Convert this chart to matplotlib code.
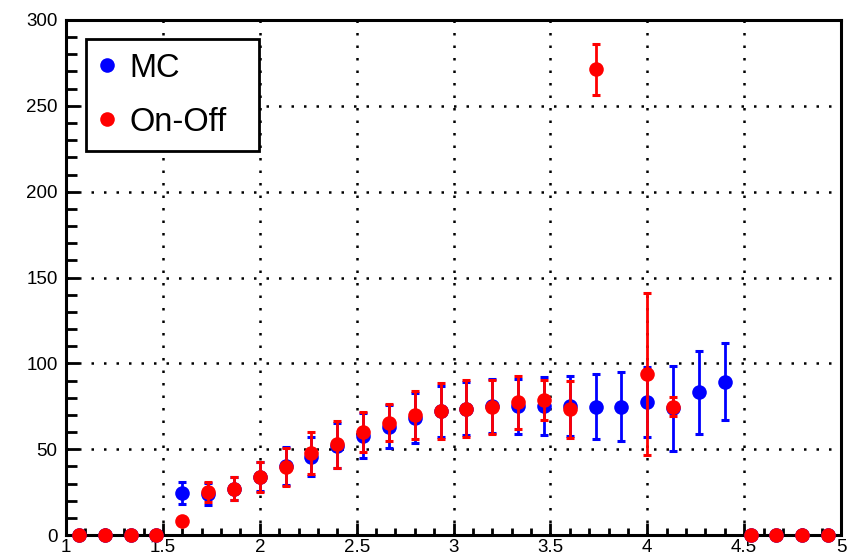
import numpy as np
import matplotlib
matplotlib.use("Agg")
import matplotlib.pyplot as plt
from matplotlib.lines import Line2D
from matplotlib.ticker import MultipleLocator

plt.rcParams['font.family'] = ['Liberation Sans', 'DejaVu Sans']

# 30 equal bins between 1 and 5
bin_edges = np.linspace(1.0, 5.0, 31)
bin_centers = 0.5 * (bin_edges[:-1] + bin_edges[1:])

nan = np.nan

mc_values = [0, 0, 0, 0, 24.5, 24.0, 27.0, 34.0, 40.0, 45.6,
             52.0, 57.8, 63.1, 68.0, 72.0, 73.5, 75.0, 75.1, 75.1, 75.0,
             74.7, 74.7, 77.6, 73.8, 83.1, 89.3, 0, 0, 0, 0]
mc_errors = [0, 0, 0, 0, 6.5, 6.5, 6.5, 8.5, 11.0, 11.5,
             13.0, 13.0, 12.5, 14.5, 15.0, 15.5, 15.7, 16.0, 17.0, 17.5,
             19.0, 20.0, 20.5, 24.8, 24.0, 22.6, 0, 0, 0, 0]

onoff_values = [0, 0, 0, 0, 8.2, 25.0, 27.0, 33.6, 39.8, 47.9,
                52.8, 59.8, 65.5, 70.0, 72.2, 73.6, 74.7, 77.3, 78.6, 73.2,
                271.4, nan, 93.8, 74.7, nan, nan, 0, 0, 0, 0]
onoff_errors = [0, 0, 0, 0, 2.0, 6.0, 6.6, 8.7, 11.0, 12.2,
                13.7, 11.7, 10.8, 14.0, 16.2, 16.7, 15.7, 15.5, 11.7, 16.7,
                14.8, nan, 47.4, 5.6, nan, nan, 0, 0, 0, 0]

series_labels = ["MC", "On-Off"]
series_colors = ["#0000ff", "#ff0000"]

x_ticks = [1, 1.5, 2, 2.5, 3, 3.5, 4, 4.5, 5]
x_tick_labels = ["1", "1.5", "2", "2.5", "3", "3.5", "4", "4.5", "5"]
y_ticks = [0, 50, 100, 150, 200, 250, 300]

W, H = 847, 556
fig = plt.figure(figsize=(W / 100, H / 100), dpi=100)
ax = fig.add_axes([66 / W, 1 - 535 / H, (841 - 66) / W, (535 - 20) / H])

ax.set_xlim(1, 5)
ax.set_ylim(0, 300)

zo = 3
for vals, errs, col in [(mc_values, mc_errors, series_colors[0]),
                        (onoff_values, onoff_errors, series_colors[1])]:
    vals = np.asarray(vals, dtype=float)
    errs = np.asarray(errs, dtype=float)
    has_err = errs > 0
    ax.errorbar(bin_centers[has_err], vals[has_err], yerr=errs[has_err],
                fmt='none', ecolor=col, elinewidth=2.0, capsize=2.6,
                capthick=2.2, zorder=zo, clip_on=False)
    ax.plot(bin_centers, vals, ls='none', marker='o', ms=10.5, mew=0,
            color=col, zorder=zo + 0.5, clip_on=False)
    zo += 1

# frame and ticks
for s in ax.spines.values():
    s.set_linewidth(2.2)
    s.set_zorder(2.5)

ax.set_xticks(x_ticks)
ax.set_xticklabels(x_tick_labels)
ax.set_yticks(y_ticks)
ax.xaxis.set_minor_locator(MultipleLocator(0.1))
ax.yaxis.set_minor_locator(MultipleLocator(10))
ax.tick_params(which='both', direction='in', width=2, labelsize=13.5,
               top=False, right=False)
ax.tick_params(axis='x', which='major', length=9, pad=3)
ax.tick_params(axis='x', which='minor', length=5)
ax.tick_params(axis='y', which='major', length=9, pad=6)
ax.tick_params(axis='y', which='minor', length=8)

ax.grid(True, which='major', color='black', linestyle=(0, (1, 4)),
        linewidth=1.8, dash_capstyle='butt')
ax.set_axisbelow(True)

handles = [Line2D([], [], ls='none', marker='o', ms=10.5, mew=0, color=c)
           for c in series_colors]
leg = ax.legend(handles, series_labels, loc='upper left',
                bbox_to_anchor=(86 / W, 1 - 39 / H - 0.01, (259 - 86) / W, 0.01),
                bbox_transform=fig.transFigure, mode='expand',
                borderaxespad=0, fontsize=23.5, frameon=True, fancybox=False,
                edgecolor='black', framealpha=1, borderpad=0.42,
                handlelength=0.45, handletextpad=0.45, labelspacing=0.7)
leg.get_frame().set_linewidth(2.0)

fig.savefig("out.png", dpi=100)
